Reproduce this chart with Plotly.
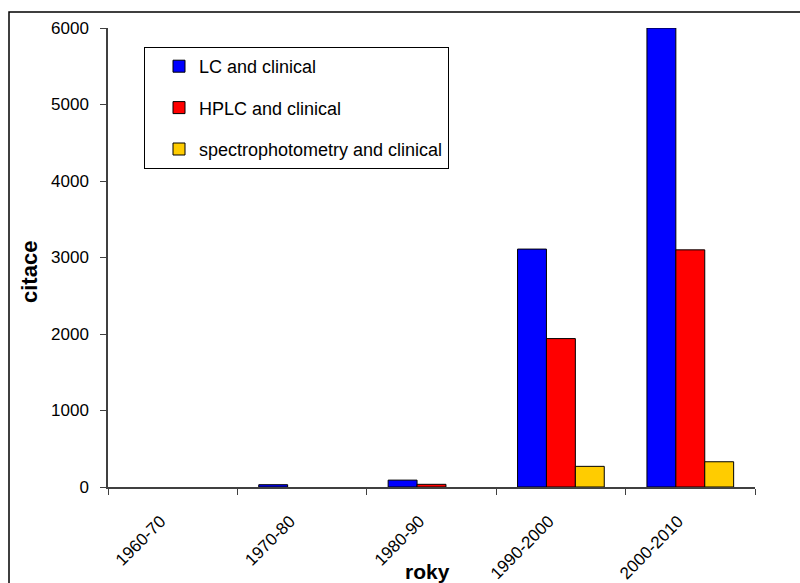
import plotly.graph_objects as go

categories = ["1960-70", "1970-80", "1980-90", "1990-2000", "2000-2010"]
lc_clinical = [0, 30, 90, 3110, 6000]
hplc_clinical = [0, 0, 35, 1940, 3100]
spectro_clinical = [0, 0, 0, 270, 330]
series_names = ["LC and clinical", "HPLC and clinical", "spectrophotometry and clinical"]
series_colors = ["#0000FF", "#FF0000", "#FFCC00"]
y_ticks = [0, 1000, 2000, 3000, 4000, 5000, 6000]

FONT = "Liberation Sans, Arial, sans-serif"

fig = go.Figure()
for i, (name, vals, col) in enumerate(zip(series_names,
                                          [lc_clinical, hplc_clinical, spectro_clinical],
                                          series_colors)):
    fig.add_trace(go.Bar(
        x=categories, y=[v if v > 0 else None for v in vals],
        name=name, legendgroup=f"g{i}",
        marker=dict(color=col, line=dict(color="#000000", width=1)),
    ))

L, R, T, B = 108, 45, 28, 96
W, H = 800, 583
pw, ph = W - L - R, H - T - B

def px_x(px):
    return (px - L) / pw

def px_y(py):
    return (H - B - py) / ph

fig.update_layout(
    width=W, height=H,
    margin=dict(l=L, r=R, t=T, b=B, pad=0, autoexpand=False),
    paper_bgcolor="white", plot_bgcolor="white",
    barmode="group", bargap=0.33, bargroupgap=0,
    font=dict(family=FONT, size=17, color="#000000"),
    showlegend=True,
    legend=dict(
        x=px_x(144), y=px_y(47), xanchor="left", yanchor="top",
        bgcolor="white", bordercolor="#000000", borderwidth=1,
        font=dict(family=FONT, size=18, color="#000000"),
        tracegroupgap=15, indentation=14,
        traceorder="grouped",
    ),
    xaxis=dict(
        type="category", tickson="boundaries", ticks="outside", ticklen=6,
        tickcolor="#404040", showline=True, linecolor="#404040", linewidth=1.5,
        tickangle=-45, tickfont=dict(family=FONT, size=17),
        ticklabelstandoff=16, ticklabelshift=-12,
        showgrid=False, zeroline=False, fixedrange=True, automargin=False,
    ),
    yaxis=dict(
        range=[0, 6000], tickvals=y_ticks, ticks="outside", ticklen=6,
        tickcolor="#404040", showline=True, linecolor="#404040", linewidth=1.5,
        tickfont=dict(family=FONT, size=17), ticklabelstandoff=8,
        showgrid=False, zeroline=False, fixedrange=True, automargin=False,
    ),
    shapes=[dict(
        type="rect", xref="paper", yref="paper",
        x0=px_x(9), x1=px_x(820), y0=px_y(600), y1=px_y(12),
        line=dict(color="#000000", width=1.5), fillcolor="rgba(0,0,0,0)",
        layer="below",
    )],
    annotations=[
        dict(text="<b>roky</b>", xref="paper", yref="paper",
             x=px_x(427), y=px_y(571), xanchor="center", yanchor="middle",
             showarrow=False, font=dict(family=FONT, size=21)),
        dict(text="<b>citace</b>", xref="paper", yref="paper",
             x=px_x(29), y=px_y(272), xanchor="center", yanchor="middle",
             showarrow=False, textangle=-90, font=dict(family=FONT, size=22)),
    ],
)

fig.write_html("out.html")
